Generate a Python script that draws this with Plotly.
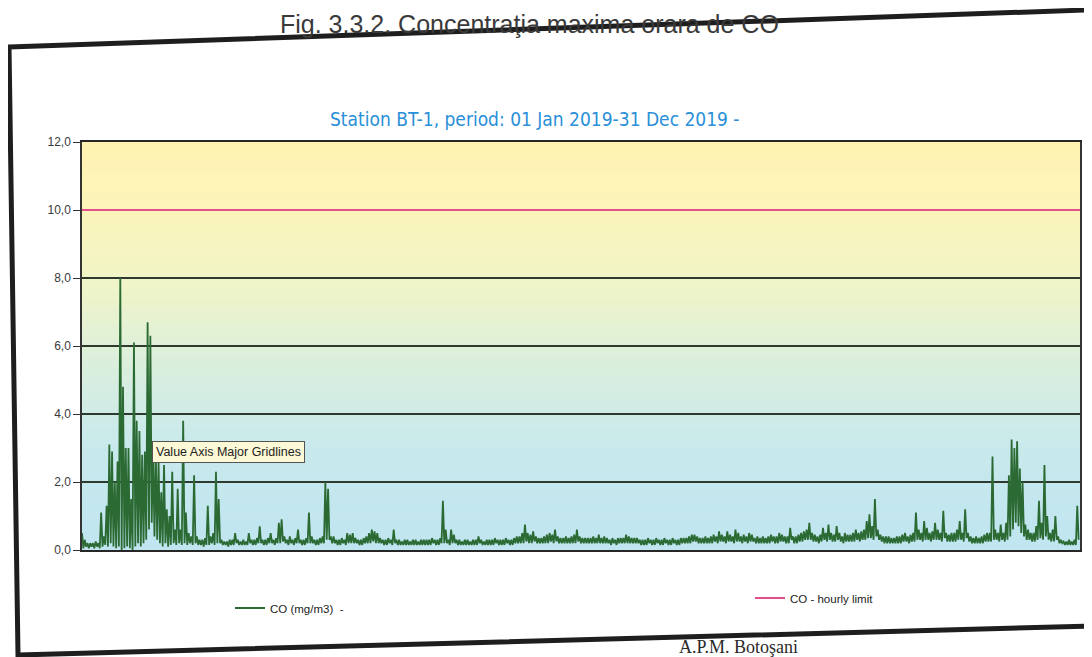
import plotly.graph_objects as go

# ---------------- data ----------------
# daily maxima of hourly CO concentration (mg/m3), 1 Jan .. 31 Dec 2019 (365 days)
daily_max = [
    0.5, 0.3, 0.2, 0.2, 0.2, 0.25, 0.2, 1.1, 0.4, 1.3,
    3.1, 2.9, 2.0, 2.6, 8.0, 4.8, 3.0, 3.0, 1.5, 6.1,
    3.8, 3.5, 2.8, 2.9, 6.7, 6.3, 3.0, 2.8, 2.6, 1.7,
    2.5, 1.2, 1.0, 2.3, 0.6, 1.8, 0.6, 3.8, 1.1, 0.5,
    0.4, 2.2, 0.4, 0.3, 0.3, 0.35, 1.3, 0.4, 0.5, 2.3,
    1.5, 0.3, 0.25, 0.25, 0.3, 0.3, 0.5, 0.3, 0.25, 0.3,
    0.25, 0.5, 0.3, 0.3, 0.35, 0.7, 0.3, 0.3, 0.35, 0.5,
    0.3, 0.35, 0.8, 0.9, 0.4, 0.3, 0.4, 0.3, 0.35, 0.6,
    0.3, 0.3, 0.35, 1.1, 0.4, 0.3, 0.3, 0.35, 0.4, 2.0,
    1.8, 0.4, 0.4, 0.3, 0.3, 0.35, 0.3, 0.5, 0.45, 0.5,
    0.35, 0.3, 0.3, 0.35, 0.4, 0.5, 0.6, 0.55, 0.5, 0.35,
    0.3, 0.3, 0.35, 0.3, 0.6, 0.3, 0.3, 0.25, 0.3, 0.3,
    0.25, 0.3, 0.3, 0.25, 0.3, 0.3, 0.3, 0.3, 0.35, 0.3,
    0.3, 0.35, 1.45, 0.6, 0.3, 0.6, 0.45, 0.3, 0.3, 0.25,
    0.3, 0.3, 0.25, 0.3, 0.3, 0.4, 0.3, 0.25, 0.3, 0.3,
    0.3, 0.35, 0.3, 0.3, 0.3, 0.35, 0.3, 0.3, 0.35, 0.4,
    0.4, 0.5, 0.75, 0.5, 0.45, 0.55, 0.4, 0.35, 0.35, 0.4,
    0.45, 0.5, 0.45, 0.6, 0.4, 0.35, 0.35, 0.4, 0.35, 0.4,
    0.45, 0.6, 0.4, 0.35, 0.35, 0.35, 0.35, 0.4, 0.35, 0.45,
    0.35, 0.4, 0.35, 0.3, 0.35, 0.3, 0.35, 0.35, 0.35, 0.45,
    0.4, 0.35, 0.35, 0.35, 0.3, 0.3, 0.3, 0.35, 0.3, 0.3,
    0.35, 0.3, 0.3, 0.35, 0.3, 0.3, 0.35, 0.3, 0.3, 0.35,
    0.35, 0.35, 0.4, 0.45, 0.45, 0.4, 0.35, 0.35, 0.4, 0.35,
    0.4, 0.45, 0.4, 0.55, 0.45, 0.4, 0.55, 0.45, 0.4, 0.6,
    0.5, 0.4, 0.45, 0.4, 0.5, 0.45, 0.35, 0.4, 0.35, 0.4,
    0.35, 0.4, 0.45, 0.4, 0.4, 0.5, 0.45, 0.4, 0.4, 0.65,
    0.4, 0.4, 0.45, 0.5, 0.55, 0.6, 0.8, 0.5, 0.45, 0.4,
    0.45, 0.65, 0.5, 0.75, 0.5, 0.45, 0.7, 0.5, 0.4, 0.5,
    0.45, 0.45, 0.5, 0.6, 0.5, 0.55, 0.6, 0.85, 1.05, 0.7,
    1.5, 0.6, 0.45, 0.4, 0.4, 0.4, 0.35, 0.35, 0.4, 0.4,
    0.45, 0.5, 0.4, 0.45, 0.5, 1.1, 0.6, 0.5, 0.85, 0.65,
    0.5, 0.55, 0.8, 0.6, 0.5, 1.15, 0.5, 0.45, 0.5, 0.5,
    0.6, 0.85, 0.5, 1.2, 0.5, 0.4, 0.35, 0.4, 0.35, 0.4,
    0.45, 0.5, 0.5, 2.75, 0.6, 0.5, 0.75, 0.5, 0.8, 2.2,
    3.25, 3.0, 3.2, 2.4, 2.0, 0.75, 0.6, 0.5, 0.5, 0.7,
    1.45, 0.8, 2.5, 1.0, 0.5, 0.6, 1.0, 0.4, 0.3, 0.25,
    0.25, 0.3, 0.25, 0.3, 1.3,
]

# daily minima of hourly CO concentration (mg/m3)
daily_min = [
    0.05, 0.1, 0.05, 0.1, 0.05, 0.1, 0.05, 0.1, 0.15, 0.1,
    0.2, 0.1, 0.05, 0.1, 0.0, 0.05, 0.1, 0.05, 0.0, 0.1,
    0.2, 0.1, 0.2, 0.3, 0.6, 0.8, 0.4, 0.3, 0.2, 0.1,
    0.2, 0.1, 0.15, 0.2, 0.15, 0.2, 0.15, 0.2, 0.15, 0.2,
    0.15, 0.2, 0.15, 0.15, 0.1, 0.15, 0.15, 0.2, 0.15, 0.2,
    0.2, 0.15, 0.15, 0.1, 0.15, 0.15, 0.2, 0.15, 0.15, 0.15,
    0.15, 0.2, 0.15, 0.15, 0.2, 0.2, 0.15, 0.15, 0.2, 0.2,
    0.15, 0.2, 0.2, 0.25, 0.2, 0.15, 0.2, 0.15, 0.2, 0.2,
    0.15, 0.15, 0.2, 0.2, 0.2, 0.15, 0.15, 0.2, 0.2, 0.3,
    0.3, 0.2, 0.2, 0.15, 0.15, 0.2, 0.15, 0.2, 0.2, 0.2,
    0.2, 0.15, 0.15, 0.2, 0.2, 0.2, 0.25, 0.2, 0.2, 0.2,
    0.15, 0.15, 0.2, 0.15, 0.2, 0.15, 0.15, 0.15, 0.15, 0.15,
    0.15, 0.15, 0.15, 0.15, 0.15, 0.15, 0.15, 0.15, 0.2, 0.15,
    0.15, 0.2, 0.2, 0.2, 0.15, 0.2, 0.2, 0.15, 0.15, 0.15,
    0.15, 0.15, 0.15, 0.15, 0.15, 0.2, 0.15, 0.15, 0.15, 0.15,
    0.15, 0.2, 0.15, 0.15, 0.15, 0.2, 0.15, 0.15, 0.2, 0.2,
    0.2, 0.2, 0.25, 0.2, 0.2, 0.25, 0.2, 0.2, 0.2, 0.2,
    0.2, 0.25, 0.2, 0.25, 0.2, 0.2, 0.2, 0.2, 0.2, 0.2,
    0.2, 0.25, 0.2, 0.2, 0.2, 0.2, 0.2, 0.2, 0.2, 0.2,
    0.2, 0.2, 0.2, 0.15, 0.2, 0.15, 0.2, 0.2, 0.2, 0.2,
    0.2, 0.2, 0.2, 0.2, 0.15, 0.15, 0.15, 0.2, 0.15, 0.15,
    0.2, 0.15, 0.15, 0.2, 0.15, 0.15, 0.2, 0.15, 0.15, 0.2,
    0.2, 0.2, 0.2, 0.25, 0.25, 0.2, 0.2, 0.2, 0.2, 0.2,
    0.2, 0.25, 0.2, 0.25, 0.25, 0.2, 0.25, 0.25, 0.2, 0.25,
    0.25, 0.2, 0.25, 0.2, 0.25, 0.25, 0.2, 0.2, 0.2, 0.2,
    0.2, 0.2, 0.25, 0.2, 0.2, 0.25, 0.25, 0.2, 0.2, 0.3,
    0.2, 0.2, 0.25, 0.25, 0.3, 0.3, 0.3, 0.25, 0.25, 0.2,
    0.25, 0.3, 0.25, 0.3, 0.25, 0.25, 0.3, 0.25, 0.2, 0.25,
    0.25, 0.25, 0.25, 0.3, 0.25, 0.3, 0.3, 0.35, 0.35, 0.3,
    0.4, 0.3, 0.25, 0.2, 0.2, 0.2, 0.2, 0.2, 0.2, 0.2,
    0.25, 0.25, 0.2, 0.25, 0.25, 0.3, 0.3, 0.25, 0.3, 0.3,
    0.25, 0.3, 0.3, 0.3, 0.25, 0.35, 0.25, 0.25, 0.25, 0.25,
    0.3, 0.3, 0.25, 0.35, 0.25, 0.2, 0.2, 0.2, 0.2, 0.2,
    0.25, 0.25, 0.25, 0.3, 0.3, 0.25, 0.3, 0.25, 0.3, 0.4,
    0.6, 0.8, 0.7, 0.5, 0.4, 0.3, 0.3, 0.25, 0.25, 0.3,
    0.35, 0.3, 0.4, 0.3, 0.25, 0.25, 0.3, 0.2, 0.2, 0.15,
    0.15, 0.15, 0.15, 0.15, 0.3,
]

hourly_limit = 10.0

y_tick_values = [0, 2, 4, 6, 8, 10, 12]
y_tick_labels = ["0,0", "2,0", "4,0", "6,0", "8,0", "10,0", "12,0"]

series_names = ["CO (mg/m3)  -", "CO - hourly limit"]
chart_title = "Station BT-1, period: 01 Jan 2019-31 Dec 2019 -"
figure_caption = "Fig. 3.3.2. Concentraţia maxima orara de CO"
source_caption = "A.P.M. Botoşani"
tooltip_text = "Value Axis Major Gridlines"

# ---------------- layout geometry ----------------
# the page body has an 8px margin, so the figure is 8px smaller than the window
OFF = 8
W, H = 1092 - OFF, 657 - OFF
PLOT_L, PLOT_R, PLOT_T, PLOT_B = 82, 1080, 142, 550   # window pixels
ML = PLOT_L - OFF
MR = W - (PLOT_R - OFF)
MT = PLOT_T - OFF
MB = H - (PLOT_B - OFF)
PW = W - ML - MR
PH = H - MT - MB


def px(xp):
    """window pixel x -> paper x"""
    return (xp - OFF - ML) / PW


def py(yp):
    """window pixel y -> paper y"""
    return (H - MB - (yp - OFF)) / PH


# zig-zag trace through each day's max then min (hourly-like look)
x_co, y_co = [], []
for d, (hi, lo) in enumerate(zip(daily_max, daily_min)):
    x_co += [d, d + 0.5]
    y_co += [hi, lo]

n_days = len(daily_max)

fig = go.Figure()

fig.add_trace(go.Scatter(
    x=x_co, y=y_co, mode="lines", name=series_names[0],
    line=dict(color="#2c6a33", width=1.8),
    hoverinfo="skip", legend="legend",
))
fig.add_trace(go.Scatter(
    x=[0, n_days], y=[hourly_limit, hourly_limit], mode="lines",
    name=series_names[1],
    line=dict(color="#e4508c", width=2),
    hoverinfo="skip", legend="legend2",
))

# gradient background (yellow top -> light blue bottom)
stops = [
    (0.0, (192, 229, 241)),
    (0.25, (200, 233, 236)),
    (0.45, (218, 239, 222)),
    (0.65, (240, 244, 200)),
    (0.85, (252, 244, 184)),
    (1.0, (255, 243, 178)),
]


def col_at(f):
    for (f0, c0), (f1, c1) in zip(stops[:-1], stops[1:]):
        if f0 <= f <= f1:
            t = (f - f0) / (f1 - f0)
            return "rgb(%d,%d,%d)" % tuple(round(a + (b - a) * t) for a, b in zip(c0, c1))
    return "rgb(%d,%d,%d)" % stops[-1][1]


shapes = []
N = 80
for i in range(N):
    f0 = i / N
    f1 = (i + 1) / N
    shapes.append(dict(
        type="rect", xref="paper", yref="paper", x0=0, x1=1, y0=f0, y1=f1 + 0.002,
        fillcolor=col_at((f0 + f1) / 2), line=dict(width=0), layer="below",
    ))

# outer scanned frame (slightly tilted), window pixels
frame_pts = [(9, 47), (1087, 10), (1091, 626), (18, 655)]
path = "M " + " L ".join("%f,%f" % (px(a), py(b)) for a, b in frame_pts) + " Z"
shapes.append(dict(
    type="path", xref="paper", yref="paper", path=path,
    line=dict(color="#1e1e1e", width=5), fillcolor="rgba(0,0,0,0)", layer="above",
))

annotations = [
    dict(text=figure_caption, xref="paper", yref="paper", x=px(529), y=py(8),
         xanchor="center", yanchor="top", showarrow=False,
         font=dict(family="Liberation Sans, Arial, sans-serif", size=25, color="#3a3a3a")),
    dict(text=chart_title, xref="paper", yref="paper", x=px(535), y=py(119),
         xanchor="center", yanchor="middle", showarrow=False,
         font=dict(family="DejaVu Sans Condensed, DejaVu Sans, sans-serif", size=19, color="#2a8fd8")),
    dict(text=tooltip_text, xref="paper", yref="paper", x=px(152), y=py(452),
         xanchor="left", yanchor="middle", showarrow=False,
         bgcolor="#fdf8d6", bordercolor="#555555", borderwidth=1, borderpad=3,
         font=dict(family="Liberation Sans, Arial, sans-serif", size=12.5, color="#222222")),
    dict(text=source_caption, xref="paper", yref="paper", x=px(800), y=py(647),
         xanchor="right", yanchor="middle", showarrow=False,
         font=dict(family="Liberation Serif, Times New Roman, serif", size=18, color="#2a2a2a")),
]

legend_font = dict(family="Liberation Sans, Arial, sans-serif", size=11.5, color="#222222")

fig.update_layout(
    width=W, height=H,
    margin=dict(l=ML, r=MR, t=MT, b=MB, autoexpand=False),
    paper_bgcolor="white",
    plot_bgcolor="rgba(0,0,0,0)",
    shapes=shapes,
    annotations=annotations,
    showlegend=True,
    legend=dict(
        x=px(230), y=py(608), xanchor="left", yanchor="middle",
        font=legend_font, bgcolor="rgba(0,0,0,0)", itemwidth=30,
    ),
    legend2=dict(
        x=px(750), y=py(598), xanchor="left", yanchor="middle",
        font=legend_font, bgcolor="rgba(0,0,0,0)", itemwidth=30,
    ),
    xaxis=dict(
        range=[0, n_days], showticklabels=False, showgrid=False, zeroline=False,
        showline=True, linecolor="#262626", linewidth=2, mirror=True, ticks="",
    ),
    yaxis=dict(
        range=[0, 12], tickvals=y_tick_values, ticktext=y_tick_labels,
        showgrid=True, gridcolor="#2f3a2f", gridwidth=1.5, zeroline=False,
        showline=True, linecolor="#333333", linewidth=1.5, mirror=True,
        ticks="outside", ticklen=7, tickcolor="#333333",
        tickfont=dict(family="Liberation Sans, Arial, sans-serif", size=12, color="#3a3a3a"),
    ),
)

fig.write_html("out.html")
